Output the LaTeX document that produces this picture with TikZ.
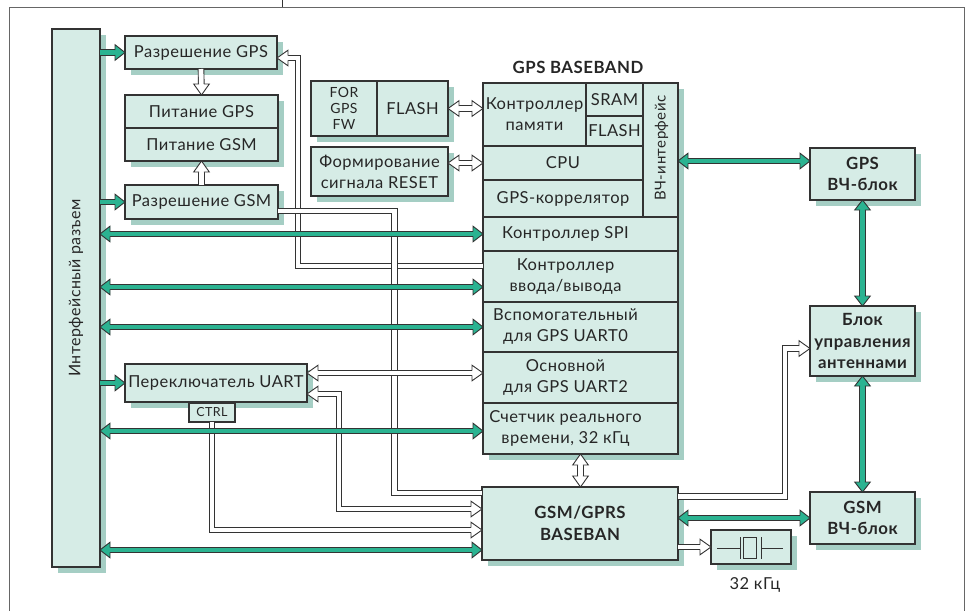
\documentclass[tikz,border=0pt]{standalone}
\usepackage{fontspec}
\setmainfont{Lato}[LetterSpace=3]
\usetikzlibrary{shadows,calc}
\definecolor{boxc}{HTML}{D6ECE6}
\definecolor{shc}{HTML}{A5CEC4}
\definecolor{grn}{HTML}{2BB391}
\definecolor{dk}{HTML}{333333}
\definecolor{txt}{HTML}{262626}
\definecolor{framec}{HTML}{666666}
\newcommand\fsreg{\fontsize{16.5}{21}\selectfont}
\newcommand\fsbld{\fontsize{16.8}{21.5}\selectfont\bfseries}
\newcommand\fssmall{\fontsize{14}{16}\selectfont}
\newcommand\fsctrl{\fontsize{12.5}{14}\selectfont}
\newcommand\fslabel{\fontsize{16}{18}\selectfont}
\tikzset{
 box/.style={draw=dk, line width=1.1pt, fill=boxc, inner sep=0pt, outer sep=0pt, anchor=north west, align=center, text=txt, font=\fsreg},
 sbox/.style={box, drop shadow={shadow xshift=6pt, shadow yshift=-6pt, fill=shc, opacity=1}},
 lbl/.style={inner sep=0pt, outer sep=0pt, align=center, text=txt, font=\fsreg},
 gpipe/.style={draw=dk, line width=0.9pt, double=grn, double distance=4.7pt},
 hpipe/.style={draw=dk, line width=0.9pt, double=white, double distance=4.8pt},
 ghead/.pic={\draw[draw=dk, line width=0.9pt, fill=grn, line join=miter] (-10,2.35) -- (-10,7.8) -- (0,0) -- (-10,-7.8) -- (-10,-2.35);},
 hhead/.pic={\draw[draw=dk, line width=0.9pt, fill=white, line join=miter] (-11,2.4) -- (-11,7.8) -- (0,0) -- (-11,-7.8) -- (-11,-2.4);},
}
\begin{document}
\begin{tikzpicture}[x=1pt,y=-1pt]
\useasboundingbox (0,0) rectangle (971,610);
% frame
\draw[framec, line width=0.9pt] (9.5,615) -- (9.5,7.5) -- (964,7.5) -- (964,615);
\draw[dk, line width=0.8pt] (282.5,0) -- (282.5,7.5);

% left column
\node[sbox, minimum width=48pt, minimum height=538pt] (if) at (52,29) {};
\node[lbl, rotate=90, font=\fslabel] (iflbl) at (76,288) {Интерфейсный разъем};
\node[sbox, minimum width=152pt, minimum height=33pt] (rgps) at (125,36) {Разрешение GPS};
\node[sbox, minimum width=153pt, minimum height=66pt] (pwr) at (125,95) {};
\node[box, minimum width=153pt, minimum height=33pt] (pgps) at (125,95) {Питание GPS};
\node[box, minimum width=153pt, minimum height=33pt] (pgsm) at (125,128) {Питание GSM};
\node[sbox, minimum width=153pt, minimum height=34pt] (rgsm) at (125,185) {Разрешение GSM};
\node[sbox, minimum width=182pt, minimum height=38pt] (uartsw) at (125,364) {Переключатель UART};
\node[box, minimum width=46pt, minimum height=19pt, font=\fsctrl] (ctrl) at (189,403) {CTRL};

% flash / reset
\node[sbox, minimum width=137pt, minimum height=55pt] (flashblk) at (311,81) {};
\node[box, minimum width=66pt, minimum height=55pt, font=\fssmall] (forfw) at (311,81) {FOR\\GPS\\FW};
\node[box, minimum width=71pt, minimum height=55pt] (fl1) at (377,81) {FLASH};
\node[sbox, minimum width=137pt, minimum height=49pt] (reset) at (311,147) {Формирование\\сигнала RESET};

% GPS baseband
\node[lbl, font=\fsbld] (title) at (578,67) {GPS BASEBAND};
\node[sbox, minimum width=195pt, minimum height=371pt] (bb) at (483,83) {};
\node[box, minimum width=103pt, minimum height=63pt] (mem) at (483,83) {Контроллер\\памяти};
\node[box, minimum width=57pt, minimum height=33pt] (sram) at (586,83) {SRAM};
\node[box, minimum width=57pt, minimum height=30pt] (fl2) at (586,116) {FLASH};
\node[box, minimum width=35pt, minimum height=134pt] (rf) at (643,83) {};
\node[lbl, rotate=90, font=\fontsize{15}{17}\selectfont] (rflbl) at ($(rf.center)+(1,-2)$) {ВЧ-интерфейс};
\node[box, minimum width=160pt, minimum height=34pt] (cpu) at (483,146) {CPU};
\node[box, minimum width=160pt, minimum height=37pt] (corr) at (483,180) {GPS-коррелятор};
\node[box, minimum width=195pt, minimum height=34pt] (spi) at (483,217) {};
\node[lbl] (spit) at ($(spi.center)+(-15,0)$) {Контроллер SPI};
\node[box, minimum width=195pt, minimum height=51pt] (io) at (483,251) {};
\node[lbl] (iot) at ($(io.center)+(-15,0)$) {Контроллер\\ввода/вывода};
\node[box, minimum width=195pt, minimum height=50pt] (uart0) at (483,302) {};
\node[lbl] (uart0t) at ($(uart0.center)+(-15,0)$) {Вспомогательный\\для GPS UART0};
\node[box, minimum width=195pt, minimum height=51pt] (uart2) at (483,352) {};
\node[lbl] (uart2t) at ($(uart2.center)+(-15,0)$) {Основной\\для GPS UART2};
\node[box, minimum width=195pt, minimum height=51pt] (rtc) at (483,403) {};
\node[lbl] (rtct) at ($(rtc.center)+(-15,0)$) {Счетчик реального\\времени, 32 кГц};

% GSM side
\node[sbox, minimum width=196pt, minimum height=73pt, font=\fsbld] (gsmbb) at (482,487) {GSM/GPRS\\BASEBAN};
\node[sbox, minimum width=80pt, minimum height=34pt] (xtal) at (711,530) {};
\node[lbl] (xtalt) at ($(xtal.south)+(4,21)$) {32 кГц};
\node[sbox, minimum width=105pt, minimum height=52pt, font=\fsbld] (gpsrf) at (810,148) {GPS\\ВЧ-блок};
\node[sbox, minimum width=105pt, minimum height=70pt, font=\fsbld] (ant) at (810,306) {Блок\\управления\\антеннами};
\node[sbox, minimum width=105pt, minimum height=52pt, font=\fsbld] (gsmrf) at (810,492) {GSM\\ВЧ-блок};

% crystal symbol
\begin{scope}[shift={(xtal.center)}, dk, line width=1pt]
\draw (-34,1) -- (-11,1);
\draw (10,1) -- (32,1);
\draw (-11,-10) -- (-11,12);
\draw (10,-10) -- (10,12);
\draw (-7.5,-9.5) rectangle (5.5,11.5);
\end{scope}

% hollow connectors
\draw[hpipe, shorten >=11pt] (rgps.south) -- (pgps.north);
\pic[rotate=-90] at (pgps.north) {hhead};
\draw[hpipe, shorten >=11pt] (rgsm.north) -- (pgsm.south);
\pic[rotate=90] at (pgsm.south) {hhead};

\draw[hpipe, shorten >=11pt, shorten <=11pt] (flashblk.east) -- (mem.west |- flashblk.east);
\pic at (mem.west |- flashblk.east) {hhead};
\pic[rotate=180] at (flashblk.east) {hhead};
\draw[hpipe, shorten >=11pt, shorten <=11pt] (reset.east |- cpu.west) -- (cpu.west);
\pic at (cpu.west) {hhead};
\pic[rotate=180] at (reset.east |- cpu.west) {hhead};

\coordinate (r1a) at ($(io.west)+(0,-10.5)$);
\coordinate (r1b) at ($(rgps.east)+(0,5.5)$);
\draw[hpipe, shorten >=11pt] (r1a) -| ($(r1b)+(21,0)$) -- (r1b);
\pic[rotate=180] at (r1b) {hhead};

\coordinate (r2a) at ($(rgsm.east)+(0,9)$);
\coordinate (r2b) at ($(gsmbb.west)+(0,-30.5)$);
\draw[hpipe] (r2a) -| ($(r2b)+(-87.5,0)$) -- (r2b);

\coordinate (r3b) at ($(uart2.west)+(0,-4.5)$);
\draw[hpipe, shorten <=11pt, shorten >=11pt] (uartsw.east |- r3b) -- (r3b);
\pic at (r3b) {hhead};
\pic[rotate=180] at (uartsw.east |- r3b) {hhead};

\coordinate (r4a) at ($(uartsw.east)+(0,11)$);
\coordinate (r4b) at ($(gsmbb.west)+(0,-14.5)$);
\draw[hpipe, shorten <=11pt, shorten >=11pt] (r4a) -| ($(r4b)+(-143,0)$) -- (r4b);
\pic at (r4b) {hhead};
\pic[rotate=180] at (r4a) {hhead};

\coordinate (r5b) at ($(gsmbb.west)+(0,6.5)$);
\draw[hpipe, shorten >=11pt] (ctrl.south) |- (r5b);
\pic at (r5b) {hhead};

\draw[hpipe, shorten <=11pt, shorten >=11pt] (rtc.south) -- (rtc.south |- gsmbb.north);
\pic[rotate=-90] at (rtc.south |- gsmbb.north) {hhead};
\pic[rotate=90] at (rtc.south) {hhead};

\coordinate (rka) at ($(gsmbb.east)+(0,-27)$);
\coordinate (rkb) at ($(ant.west)+(0,7.5)$);
\draw[hpipe, shorten >=11pt] (rka) -| ($(rkb)+(-25,0)$) -- (rkb);
\pic at (rkb) {hhead};

\draw[hpipe, shorten >=11pt] (gsmbb.east |- xtal.west) -- (xtal.west);
\pic at (xtal.west) {hhead};

% green connectors
\draw[gpipe, shorten >=10pt] (if.east |- rgps.west) -- (rgps.west);
\pic at (rgps.west) {ghead};
\draw[gpipe, shorten >=10pt] (if.east |- rgsm.west) -- (rgsm.west);
\pic at (rgsm.west) {ghead};
\draw[gpipe, shorten >=10pt] (if.east |- uartsw.west) -- (uartsw.west);
\pic at (uartsw.west) {ghead};

\draw[gpipe, shorten <=10pt, shorten >=10pt] (if.east |- spi.west) -- (spi.west);
\pic at (spi.west) {ghead};
\pic[rotate=180] at (if.east |- spi.west) {ghead};

\coordinate (gio) at ($(io.west)+(0,10.5)$);
\draw[gpipe, shorten <=10pt, shorten >=10pt] (if.east |- gio) -- (gio);
\pic at (gio) {ghead};
\pic[rotate=180] at (if.east |- gio) {ghead};

\draw[gpipe, shorten <=10pt, shorten >=10pt] (if.east |- uart0.west) -- (uart0.west);
\pic at (uart0.west) {ghead};
\pic[rotate=180] at (if.east |- uart0.west) {ghead};

\coordinate (grtc) at ($(rtc.west)+(0,2.5)$);
\draw[gpipe, shorten <=10pt, shorten >=10pt] (if.east |- grtc) -- (grtc);
\pic at (grtc) {ghead};
\pic[rotate=180] at (if.east |- grtc) {ghead};

\coordinate (ggsm) at ($(gsmbb.west)+(0,26.5)$);
\draw[gpipe, shorten <=10pt, shorten >=10pt] (if.east |- ggsm) -- (ggsm);
\pic at (ggsm) {ghead};
\pic[rotate=180] at (if.east |- ggsm) {ghead};

\coordinate (grf) at ($(gpsrf.west)+(0,-13)$);
\draw[gpipe, shorten <=10pt, shorten >=10pt] (rf.east |- grf) -- (grf);
\pic at (grf) {ghead};
\pic[rotate=180] at (rf.east |- grf) {ghead};

\draw[gpipe, shorten <=10pt, shorten >=10pt] (gpsrf.south) -- (ant.north);
\pic[rotate=-90] at (ant.north) {ghead};
\pic[rotate=90] at (gpsrf.south) {ghead};

\draw[gpipe, shorten <=10pt, shorten >=10pt] (ant.south) -- (gsmrf.north);
\pic[rotate=-90] at (gsmrf.north) {ghead};
\pic[rotate=90] at (ant.south) {ghead};

\draw[gpipe, shorten <=10pt, shorten >=10pt] (gsmbb.east |- gsmrf.west) -- (gsmrf.west);
\pic at (gsmrf.west) {ghead};
\pic[rotate=180] at (gsmbb.east |- gsmrf.west) {ghead};
\end{tikzpicture}
\end{document}
